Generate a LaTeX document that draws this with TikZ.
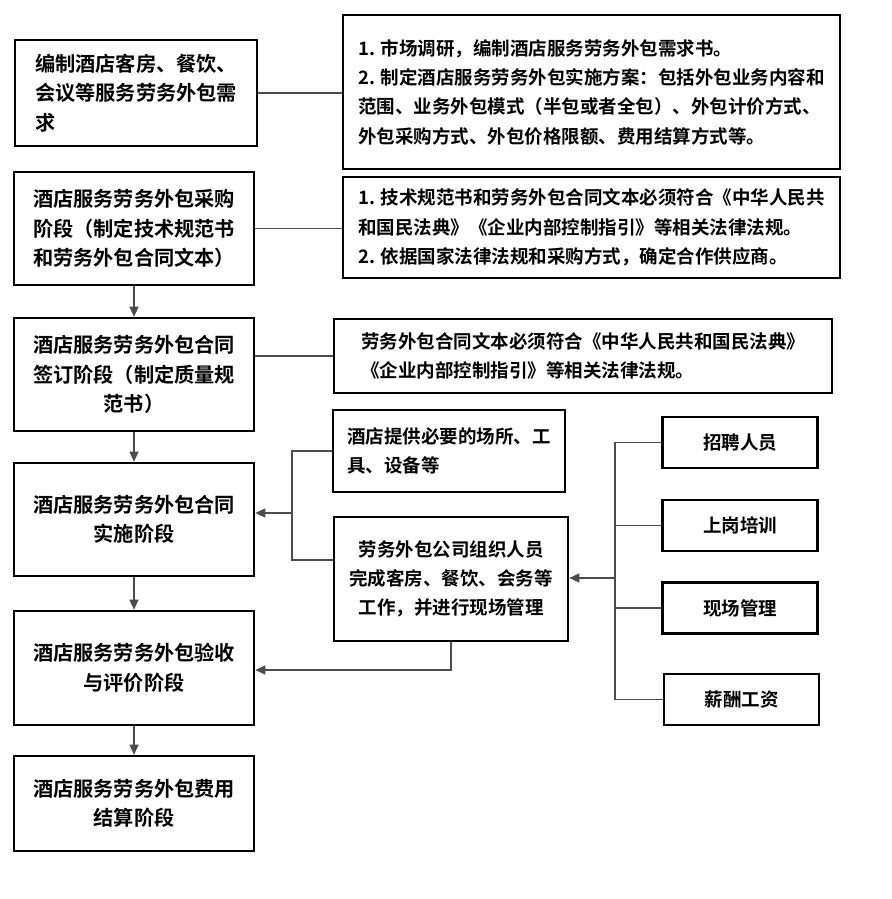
\documentclass[tikz,border=0pt]{standalone}
\usepackage{fontspec}
\newfontfamily\cjk{Noto Sans CJK SC}[BoldFont={* Bold}]
\usetikzlibrary{arrows.meta}
\begin{document}
\begin{tikzpicture}[x=1pt,y=-1pt,
  box/.style={draw=black,line width=2.6pt,inner sep=0pt,font=\cjk\bfseries},
  lbox/.style={box,minimum width=240pt,font=\cjk\bfseries\fontsize{20.2}{29.5}\selectfont},
  rbox/.style={box,font=\cjk\bfseries\fontsize{18.5}{29.3}\selectfont},
  conn/.style={draw=black!70,line width=1.3pt},
  arr/.style={conn,-{Triangle[length=10pt,width=9pt]}}]
\useasboundingbox (0,0) rectangle (891,899);
\fill[white] (0,0) rectangle (891,899);
% left column
\node[lbox,minimum width=242pt,minimum height=106pt,align=left] (A) at (136,93) {编制酒店客房、餐饮、\\会议等服务劳务外包需\\求};
\node[lbox,minimum height=113pt,align=left] (B) at (134,228.5) {酒店服务劳务外包采购\\阶段（制定技术规范书\\和劳务外包合同文本）};
\node[lbox,minimum height=113pt,align=center] (C) at (134,374.5) {酒店服务劳务外包合同\\签订阶段（制定质量规\\范书）};
\node[lbox,minimum height=113pt,align=center] (D) at (134,519.5) {酒店服务劳务外包合同\\实施阶段};
\node[lbox,minimum height=114pt,align=center] (E) at (134,668) {酒店服务劳务外包验收\\与评价阶段};
\node[lbox,minimum height=95pt,align=center] (F) at (134,803.5) {酒店服务劳务外包费用\\结算阶段};
% right column
\node[rbox,minimum width=497pt,minimum height=154pt,align=left] (R1) at (591.5,92) {1. 市场调研，编制酒店服务劳务外包需求书。\\2. 制定酒店服务劳务外包实施方案：包括外包业务内容和\\范围、业务外包模式（半包或者全包）、外包计价方式、\\外包采购方式、外包价格限额、费用结算方式等。};
\node[rbox,minimum width=497pt,minimum height=101pt,align=left] (R2) at (591.5,227.5) {1. 技术规范书和劳务外包合同文本必须符合《中华人民共\\和国民法典》《企业内部控制指引》等相关法律法规。\\2. 依据国家法律法规和采购方式，确定合作供应商。};
\node[rbox,minimum width=498pt,minimum height=74pt,align=left] (R3) at (583,356) {劳务外包合同文本必须符合《中华人民共和国民法典》\\《企业内部控制指引》等相关法律法规。};
\node[rbox,minimum width=232pt,minimum height=82pt,align=left] (R4) at (449,451) {酒店提供必要的场所、工\\具、设备等};
\node[rbox,minimum width=234pt,minimum height=124pt,align=center] (R5) at (451,579) {劳务外包公司组织人员\\完成客房、餐饮、会务等\\工作，并进行现场管理};
\node[rbox,minimum width=155pt,minimum height=51pt] (S1) at (740,442.5) {招聘人员};
\node[rbox,minimum width=155pt,minimum height=51pt] (S2) at (740,525.5) {上岗培训};
\node[rbox,minimum width=155pt,minimum height=51pt] (S3) at (740,608) {现场管理};
\node[rbox,minimum width=155pt,minimum height=51pt] (S4) at (741.5,699.5) {薪酬工资};
% horizontal links
\draw[conn] (A.east) -- (A.east -| R1.west);
\draw[conn] (B.east) -- (B.east -| R2.west);
\draw[conn] (C.east |- R3.west) -- (R3.west);
% vertical arrows
\draw[arr] (B.south) -- (C.north);
\draw[arr] (C.south) -- (D.north);
\draw[arr] (D.south) -- (E.north);
\draw[arr] (E.south) -- (F.north);
% bracket to D
\coordinate (j1) at (292,513);
\coordinate (r5a) at ([yshift=19pt]R5.west);
\draw[conn] (R4.west) -| (j1) |- (r5a);
\draw[arr] (j1) -- (D.east |- j1);
% R5 to E
\coordinate (e1) at ([yshift=-2pt]E.east);
\draw[arr] (R5.south) |- (e1);
% bracket of small boxes
\coordinate (j2) at (615,578);
\draw[conn] (S1.west) -| (j2);
\draw[conn] (S2.west) -| (j2);
\draw[conn] (S3.west) -| (j2);
\draw[conn] (S4.west) -| (j2);
\draw[arr] (j2) -- (R5.east |- j2);
\end{tikzpicture}
\end{document}
